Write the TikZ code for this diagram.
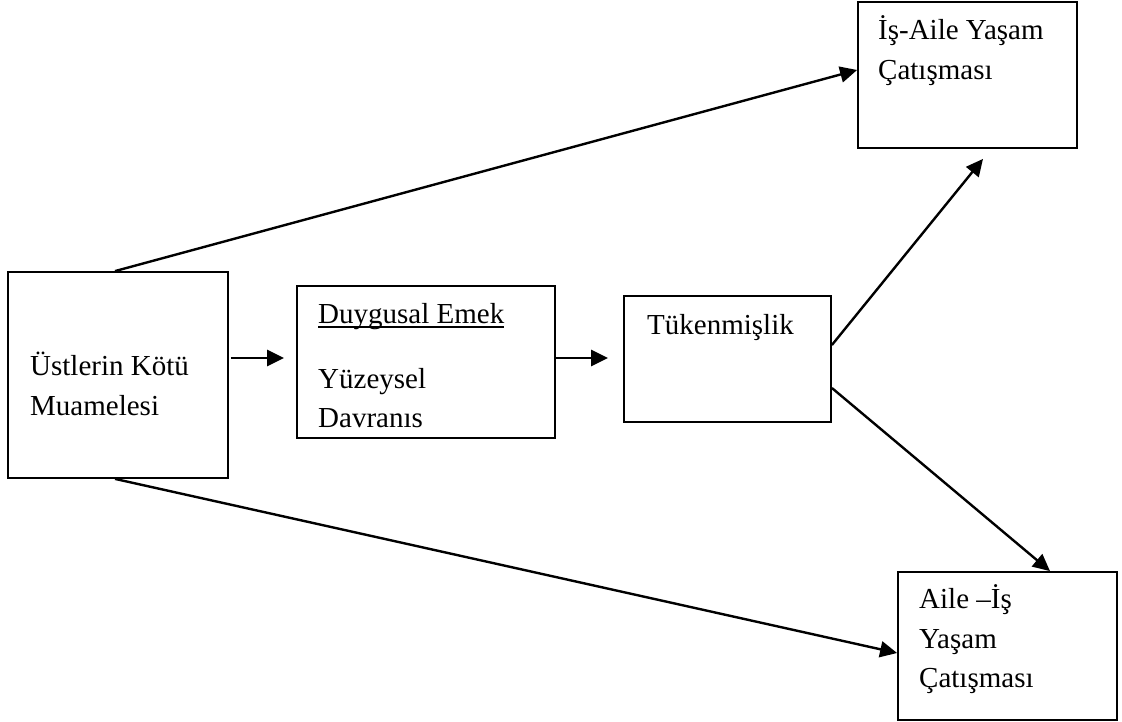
\documentclass[tikz,border=0pt]{standalone}
\usepackage{fontspec}
\setmainfont{Liberation Serif}
\usetikzlibrary{arrows.meta,calc}
\newcommand\myul[1]{\setbox0\hbox{#1}\rlap{\rule[-4.5pt]{\wd0}{1.3pt}}\box0}
\tikzset{
  box/.style={draw,line width=1.8pt,inner sep=0pt,rectangle},
  lbl/.style={inner sep=0pt,anchor=base west,font=\fontsize{29}{40}\selectfont},
  arr/.style={line width=2.4pt,-{Triangle[length=17pt,width=16pt]}}
}
\begin{document}
\begin{tikzpicture}[x=1pt,y=-1pt]
\useasboundingbox (0,0) rectangle (1122,722);
% boxes
\node[box,minimum width=220pt,minimum height=206pt] (L) at (118,375) {};
\node[box,minimum width=258pt,minimum height=152pt] (D) at (426,362) {};
\node[box,minimum width=207pt,minimum height=126pt] (T) at (727.5,359) {};
\node[box,minimum width=219pt,minimum height=146pt] (WF) at (967.5,75) {};
\node[box,minimum width=219pt,minimum height=148pt] (FW) at (1007.5,646) {};
% texts
\node[lbl] (l1) at (30,375) {Üstlerin Kötü};
\node[lbl] (l2) at (30,415) {Muamelesi};
\node[lbl] (d1) at (318,323) {\myul{Duygusal Emek}};
\node[lbl] (d2) at (318,388) {Yüzeysel};
\node[lbl] (d3) at (318,427) {Davranıs};
\node[lbl] (t1) at (647,334) {Tükenmişlik};
\node[lbl] (w1) at (878,40) {İş-Aile Yaşam};
\node[lbl] (w2) at (878,80) {Çatışması};
\node[lbl] (f1) at (919,608) {Aile –İş};
\node[lbl] (f2) at (919,648) {Yaşam};
\node[lbl] (f3) at (919,687) {Çatışması};
% connectors
\draw[arr] ($(L.north)+(-3,0)$) -- ($(WF.west)+(0,-5)$);
\draw[arr] ($(L.south)+(-3,0)$) -- ($(FW.west)+(0,7)$);
\draw[arr] ($(L.east|-D.west)+(2,-4)$) -- ($(D.west)+(-12,-4)$);
\draw[arr] ($(D.east)+(0,-4)$) -- ($(T.west)+(-15,-1)$);
\draw[arr] ($(T.east)+(0,-14)$) -- ($(WF.south)+(15.5,10)$);
\draw[arr] ($(T.east)+(0,29)$) -- ($(FW.north)+(42.5,0)$);
\end{tikzpicture}
\end{document}
